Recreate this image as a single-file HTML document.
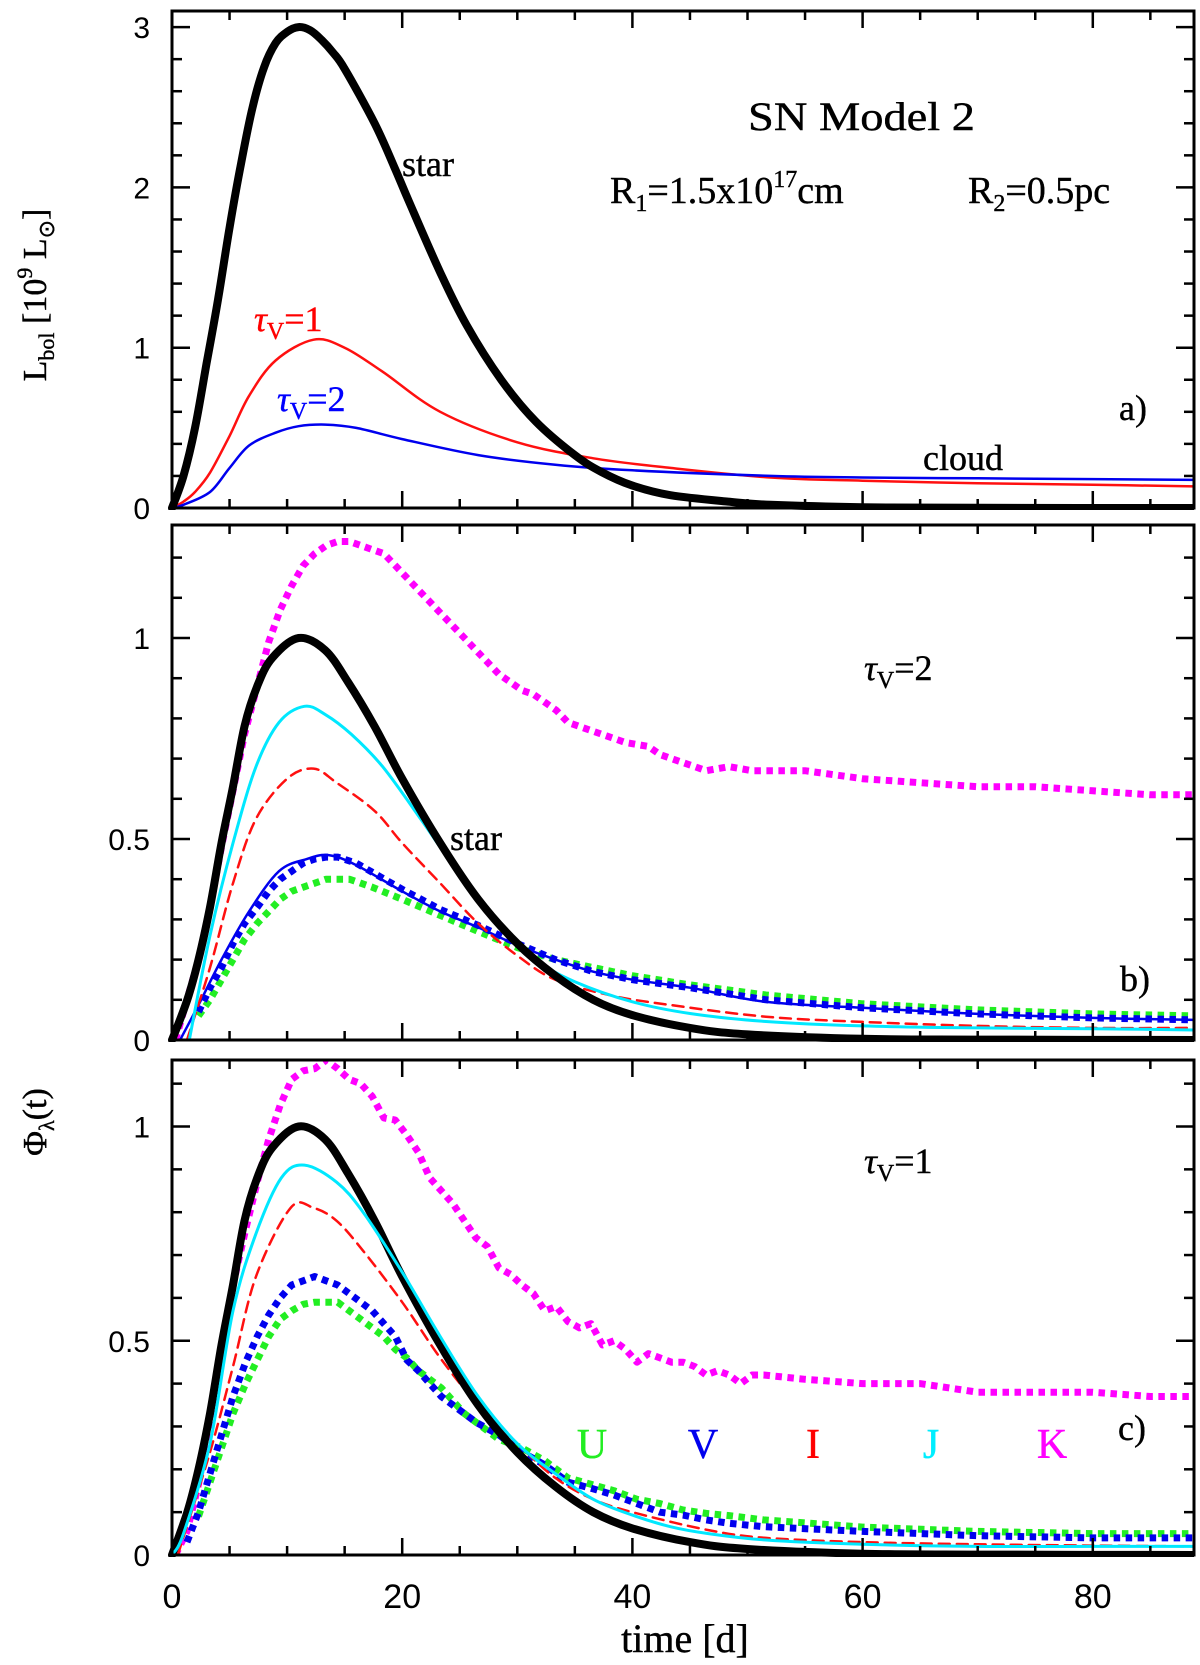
<!DOCTYPE html>
<html><head><meta charset="utf-8"><style>
html,body{margin:0;padding:0;background:#fff;}
svg{display:block;}
.tk{font-family:"Liberation Sans",sans-serif;font-size:30px;fill:#000;}
.an{font-family:"Liberation Serif",serif;fill:#000;stroke:currentColor;stroke-width:0.4;}
</style></head><body>
<svg id="chart" width="1200" height="1665" viewBox="0 0 1200 1665" xmlns="http://www.w3.org/2000/svg">
<g id="marks"></g>
<g id="axes"></g>
<g id="labels">
<text class="an" x="748" y="130" font-size="40" textLength="227" lengthAdjust="spacingAndGlyphs">SN Model 2</text>
<text class="an" x="610" y="203" font-size="38">R<tspan font-size="24" dy="8">1</tspan><tspan dy="-8">=1.5x10</tspan><tspan font-size="24" dy="-16">17</tspan><tspan dy="16">cm</tspan></text>
<text class="an" x="968" y="203" font-size="38">R<tspan font-size="24" dy="8">2</tspan><tspan dy="-8">=0.5pc</tspan></text>
<text class="an" x="402" y="176" font-size="36">star</text>
<text class="an" x="254" y="331" font-size="36" style="fill:#ff0000;color:#ff0000;font-style:italic">τ<tspan font-size="24" dy="8" font-style="normal">V</tspan><tspan dy="-8" font-style="normal">=1</tspan></text>
<text class="an" x="277" y="411" font-size="36" style="fill:#0000ff;color:#0000ff;font-style:italic">τ<tspan font-size="24" dy="8" font-style="normal">V</tspan><tspan dy="-8" font-style="normal">=2</tspan></text>
<text class="an" x="1119" y="420" font-size="36">a)</text>
<text class="an" x="923" y="470" font-size="36">cloud</text>
<text class="an" x="864" y="680" font-size="36" style="font-style:italic">τ<tspan font-size="24" dy="8" font-style="normal">V</tspan><tspan dy="-8" font-style="normal">=2</tspan></text>
<text class="an" x="450" y="850" font-size="36">star</text>
<text class="an" x="1120" y="991" font-size="36">b)</text>
<text class="an" x="864" y="1173" font-size="36" style="font-style:italic">τ<tspan font-size="24" dy="8" font-style="normal">V</tspan><tspan dy="-8" font-style="normal">=1</tspan></text>
<text class="an" x="1118" y="1440" font-size="36">c)</text>
<text class="an" x="592" y="1458" font-size="42" text-anchor="middle" style="fill:#22ee22;color:#22ee22">U</text>
<text class="an" x="703" y="1458" font-size="42" text-anchor="middle" style="fill:#0000ee;color:#0000ee">V</text>
<text class="an" x="813" y="1458" font-size="42" text-anchor="middle" style="fill:#ff0000;color:#ff0000">I</text>
<text class="an" x="931" y="1458" font-size="42" text-anchor="middle" style="fill:#00eeff;color:#00eeff">J</text>
<text class="an" x="1052" y="1458" font-size="42" text-anchor="middle" style="fill:#ff00ff;color:#ff00ff">K</text>
<text class="an" x="685" y="1652" font-size="40" text-anchor="middle">time [d]</text>
<text class="an" transform="translate(46,295) rotate(-90)" font-size="34" text-anchor="middle">L<tspan font-size="22" dy="8">bol</tspan><tspan dy="-8">  [10</tspan><tspan font-size="22" dy="-14">9</tspan><tspan dy="14"> L</tspan><tspan font-size="22" dy="8">⊙</tspan><tspan dy="-8">]</tspan></text>
<text class="an" transform="translate(46,1122) rotate(-90)" font-size="34" text-anchor="middle">Φ<tspan font-size="22" dy="8">λ</tspan><tspan dy="-8">(t)</tspan></text>
</g>
</svg>
<script>
// ---- data (time in days) ----
const tStarA = [0,1,2,3,4,5,6,7,8,9,10,11,12,13,14,15,17.6,19.3,20.6,23.3,25.6,28.6,31.6,35,37.3,40,43.3,48.3,52,60,70,89];
const vStarA = [0,0.2,0.5,0.9,1.3,1.75,2.15,2.5,2.75,2.9,2.97,3.0,2.98,2.92,2.84,2.74,2.4,2.13,1.91,1.47,1.14,0.8,0.54,0.33,0.225,0.14,0.08,0.04,0.02,0.005,0.001,0];
const tRedA = [0,1,2,3.3,5,6.7,9,12.3,15,18.3,23.3,30,36.6,43.3,52,60,70,80,89];
const vRedA = [0,0.04,0.1,0.22,0.45,0.70,0.92,1.05,1.0,0.85,0.6,0.41,0.31,0.25,0.19,0.17,0.155,0.145,0.135];
const tBlueA = [0,1,3.3,5,6.7,9,11,13.3,16,20,26.6,33.3,40,52,60,70,80,89];
const vBlueA = [0,0.02,0.1,0.25,0.39,0.47,0.51,0.52,0.50,0.43,0.33,0.27,0.235,0.2,0.19,0.185,0.18,0.175];

const tStarB = [0,1.33,2.3,3.3,4.3,5.3,6.3,7.4,8.7,11,13.3,15.3,17.6,20,23.3,26.6,30,33.3,36.6,40,45,50,60,70,89];
const vStarB = [0,0.10,0.2,0.33,0.49,0.63,0.78,0.88,0.95,1.0,0.97,0.89,0.78,0.65,0.49,0.35,0.24,0.16,0.10,0.062,0.03,0.014,0.003,0.001,0];
const tCyanB = [1.5,3.3,5.3,7.3,9.3,11.5,13.3,15.6,18.3,21.6,25,28.3,31.6,35,40,45,51.6,60,70,80,89];
const vCyanB = [0,0.26,0.49,0.68,0.79,0.83,0.81,0.76,0.68,0.55,0.41,0.29,0.2,0.145,0.095,0.066,0.046,0.035,0.03,0.028,0.025];
const tRedB = [1.3,3.3,5.3,7.3,10,12.3,14.3,17.6,20,23.3,26.6,30,33.3,38.3,43.3,51.6,60,70,80,89];
const vRedB = [0,0.18,0.39,0.55,0.65,0.675,0.64,0.57,0.49,0.39,0.29,0.21,0.15,0.11,0.087,0.058,0.045,0.035,0.03,0.03];
const tBlueB = [0.7,2.3,4.3,6.7,9.3,11.7,13.6,16,20,23.3,26.6,30,33.3,36.6,40,45,51.6,60,70,80,89];
const vBlueB = [0,0.087,0.2,0.32,0.42,0.45,0.46,0.435,0.37,0.32,0.28,0.236,0.2,0.17,0.15,0.13,0.095,0.08,0.065,0.055,0.05];
const tVdotB = [2.3,3.3,4.3,5.3,6.3,7.4,8.4,9.4,10.4,11.4,12.4,13.4,14.4,16,20,23.3,26.6,30,33.3,36.6,40,45,51.6,60,70,80,89];
const vVdotB = [0.07,0.13,0.18,0.24,0.29,0.33,0.37,0.40,0.42,0.44,0.45,0.455,0.455,0.44,0.375,0.325,0.285,0.24,0.2,0.17,0.15,0.13,0.1,0.08,0.065,0.055,0.05];
const tUdotB = [2.3,3.3,4.3,5.3,6.3,7.4,8.4,9.4,10.4,11.4,12.4,13.4,14.4,15.4,16.4,17.4,20,23.3,26.6,30,33.3,36.6,40,45,51.6,60,70,80,89];
const vUdotB = [0.06,0.10,0.15,0.2,0.25,0.29,0.32,0.35,0.37,0.38,0.39,0.40,0.40,0.40,0.39,0.38,0.35,0.31,0.27,0.23,0.2,0.18,0.16,0.137,0.112,0.09,0.075,0.065,0.06];
const tKdotB = [0.3,2.3,3.3,4.3,5.3,6.3,7.4,8.4,9.4,10.4,11.4,12.4,13.4,14.4,15.4,16.4,17.4,18.4,19.4,20.4,21.4,22.4,23.4,24.4,25.4,26.4,27.4,28.4,29.4,30.4,31.4,32.4,33.4,34.4,36.4,37.4,38.4,39.4,41.4,42.4,43.4,44.4,45.4,46.4,48.4,50.4,55,60,65,70,75,80,85,89];
const vKdotB = [0,0.20,0.33,0.48,0.62,0.76,0.88,0.99,1.07,1.13,1.18,1.21,1.23,1.24,1.24,1.23,1.22,1.21,1.18,1.15,1.12,1.09,1.06,1.03,1.0,0.97,0.94,0.91,0.89,0.87,0.86,0.84,0.82,0.79,0.77,0.76,0.75,0.74,0.73,0.71,0.70,0.69,0.68,0.67,0.68,0.67,0.67,0.65,0.64,0.63,0.63,0.62,0.61,0.61];

const tStarC = [0,1.33,2.3,3.3,4.3,5.3,6.3,7.4,8.7,11,13.3,15.3,17.6,20,23.3,26.6,30,33.3,36.6,40,45,50,60,70,89];
const vStarC = [0,0.10,0.2,0.33,0.49,0.63,0.78,0.88,0.95,1.0,0.97,0.89,0.78,0.65,0.49,0.35,0.24,0.16,0.10,0.062,0.03,0.014,0.003,0.001,0];
const tCyanC = [0,1,3.3,5.3,7.3,9.5,11.5,14.3,16.6,20,23.3,26.6,30,33.3,36.6,40,43.3,46.6,51.6,60,70,80,89];
const vCyanC = [0,0.05,0.26,0.57,0.75,0.88,0.91,0.87,0.80,0.66,0.51,0.37,0.26,0.19,0.13,0.093,0.066,0.05,0.035,0.025,0.02,0.02,0.02];
const tRedC = [0.5,3.3,5.3,7.3,10.3,12.3,14.3,16.6,20,23.3,26.6,30,33.3,36.6,40,46.6,51.6,60,70,80,89];
const vRedC = [0,0.24,0.44,0.65,0.81,0.81,0.78,0.71,0.59,0.46,0.35,0.26,0.18,0.13,0.10,0.058,0.04,0.03,0.025,0.022,0.02];
const tVdotC = [1.3,2.3,3.3,4.3,5.3,6.4,7.4,8.4,9.4,10.4,11.4,12.4,13.4,14.4,15.4,16.4,17.4,18.4,19.4,20.4,21.4,22.4,23.4,24.4,26.4,28.4,30.4,32.4,34.4,36.4,38.4,40.4,42.4,44.4,46.4,48.4,51.4,60,70,80,89];
const vVdotC = [0.03,0.10,0.19,0.28,0.37,0.45,0.51,0.56,0.60,0.63,0.64,0.65,0.64,0.63,0.61,0.59,0.57,0.54,0.51,0.455,0.43,0.40,0.37,0.35,0.31,0.28,0.24,0.21,0.17,0.156,0.14,0.12,0.10,0.093,0.082,0.074,0.066,0.055,0.045,0.04,0.04];
const tUdotC = [2.3,3.3,4.3,5.3,6.4,7.4,8.4,9.4,10.4,11.4,12.4,13.4,14.4,15.4,16.4,17.4,18.4,19.4,20.4,21.4,22.4,23.4,24.4,25.4,26.4,28.4,30.4,32.4,34.4,36.4,38.4,40.4,42.4,44.4,46.4,48.4,51.4,60,70,80,89];
const vUdotC = [0.09,0.17,0.25,0.33,0.40,0.455,0.51,0.55,0.57,0.585,0.59,0.59,0.59,0.57,0.55,0.53,0.51,0.48,0.46,0.43,0.41,0.39,0.36,0.33,0.31,0.27,0.25,0.22,0.18,0.165,0.15,0.13,0.12,0.105,0.097,0.092,0.082,0.065,0.055,0.05,0.05];
const tKdotC = [0.3,1.3,2.3,3.3,4.3,5.3,6.4,7.4,8.4,9.4,10.4,11.4,12.4,13.4,14.4,15.4,16.4,17.4,18.4,19.4,20.4,21.4,22.4,23.4,24.4,25.4,26.4,27.4,28.4,29.4,30.4,31.4,32.4,33.4,34.4,35.4,36.4,37.4,38.4,39.4,40.4,41.4,42.4,43.4,44.4,45.4,46.4,47.4,48.4,49.4,50.4,51.4,55,60,65,70,75,80,85,89];
const vKdotC = [0,0.055,0.165,0.31,0.47,0.63,0.76,0.87,0.97,1.05,1.11,1.13,1.135,1.155,1.135,1.11,1.10,1.07,1.02,1.015,0.98,0.94,0.88,0.85,0.82,0.78,0.74,0.72,0.67,0.655,0.63,0.61,0.57,0.58,0.545,0.53,0.54,0.49,0.50,0.48,0.45,0.47,0.46,0.45,0.45,0.44,0.42,0.43,0.42,0.40,0.42,0.42,0.41,0.40,0.40,0.38,0.38,0.38,0.37,0.37];

const xTickLabels = ["0","20","40","60","80"];
const yTickLabelsA = ["0","1","2","3"];
const yTickLabelsBC = ["0","0.5","1"];

// ---- layout ----
const NS = "http://www.w3.org/2000/svg";
const X0 = 172, XR = 1194, XU = 11.51;
const X = t => X0 + t * XU;
const panels = {
  a: {top: 11, bottom: 508, unit: 160.3, minor: 0.2, major: 1},
  b: {top: 525, bottom: 1040, unit: 402, minor: 0.1, major: 0.5},
  c: {top: 1060, bottom: 1555, unit: 428.5, minor: 0.1, major: 0.5}
};
const Yf = p => v => p.bottom - v * p.unit;
const marks = document.getElementById('marks');
const axes = document.getElementById('axes');

function mk(tag, attrs, parent) {
  const e = document.createElementNS(NS, tag);
  for (const k in attrs) e.setAttribute(k, attrs[k]);
  parent.appendChild(e);
  return e;
}
function pts(ts, vs, Y) {
  const n = Math.min(ts.length, vs.length), out = [];
  for (let i = 0; i < n; i++) out.push([X(ts[i]), Y(vs[i])]);
  return out;
}
function smoothPath(p) {
  let d = 'M' + p[0][0].toFixed(1) + ',' + p[0][1].toFixed(1);
  for (let i = 0; i < p.length - 1; i++) {
    const p0 = p[i - 1] || p[i], p1 = p[i], p2 = p[i + 1], p3 = p[i + 2] || p2;
    const c1x = p1[0] + (p2[0] - p0[0]) / 6, c1y = p1[1] + (p2[1] - p0[1]) / 6;
    const c2x = p2[0] - (p3[0] - p1[0]) / 6, c2y = p2[1] - (p3[1] - p1[1]) / 6;
    d += ' C' + c1x.toFixed(1) + ',' + c1y.toFixed(1) + ' ' + c2x.toFixed(1) + ',' + c2y.toFixed(1) + ' ' + p2[0].toFixed(1) + ',' + p2[1].toFixed(1);
  }
  return d;
}
function linePath(p) { return 'M' + p.map(q => q[0].toFixed(1) + ',' + q[1].toFixed(1)).join(' L'); }

function series(panel, ts, vs, name, style) {
  const p = panels[panel];
  const P = pts(ts, vs, Yf(p));
  const d = style.dot ? linePath(P) : smoothPath(P);
  const el = mk('path', {d: d, fill: 'none', stroke: style.color, 'stroke-width': style.w,
    'stroke-linejoin': 'round', 'stroke-linecap': style.dot ? 'butt' : 'round',
    'clip-path': 'url(#clip-' + panel + ')'}, marks);
  if (style.dash) el.setAttribute('stroke-dasharray', style.dash);
  
  
}

const defs = mk('defs', {}, document.getElementById('chart'));
for (const k in panels) {
  const p = panels[k];
  const cp = mk('clipPath', {id: 'clip-' + k}, defs);
  mk('rect', {x: X0 - 6, y: p.top, width: XR - X0 + 6, height: p.bottom - p.top + 2}, cp);
}

const BLK = '#000', RED = '#ff1010', BLU = '#0000ee', CYN = '#00e8ff', GRN = '#22ee22', MAG = '#ff00ff';
const DOT = '6.5 5.5';
series('a', tRedA, vRedA, 'tau1-cloud-curve', {color: RED, w: 2.5});
series('a', tBlueA, vBlueA, 'tau2-cloud-curve', {color: BLU, w: 2.5});
series('a', tStarA, vStarA, 'star-curve-a', {color: BLK, w: 8});
series('b', tKdotB, vKdotB, 'k-band-b', {color: MAG, w: 7, dash: DOT, dot: true});
series('b', tUdotB, vUdotB, 'u-band-b', {color: GRN, w: 7, dash: DOT, dot: true});
series('b', tVdotB, vVdotB, 'v-band-b', {color: BLU, w: 7, dash: DOT, dot: true});
series('b', tBlueB, vBlueB, 'v-band-solid-b', {color: BLU, w: 2.5});
series('b', tRedB, vRedB, 'i-band-b', {color: RED, w: 2.5, dash: '11 7'});
series('b', tCyanB, vCyanB, 'j-band-b', {color: CYN, w: 3});
series('b', tStarB, vStarB, 'star-curve-b', {color: BLK, w: 8});
series('c', tKdotC, vKdotC, 'k-band-c', {color: MAG, w: 7, dash: DOT, dot: true});
series('c', tUdotC, vUdotC, 'u-band-c', {color: GRN, w: 7, dash: DOT, dot: true});
series('c', tVdotC, vVdotC, 'v-band-c', {color: BLU, w: 7, dash: DOT, dot: true});
series('c', tRedC, vRedC, 'i-band-c', {color: RED, w: 2.5, dash: '11 7'});
series('c', tStarC, vStarC, 'star-curve-c', {color: BLK, w: 8});
series('c', tCyanC, vCyanC, 'j-band-c', {color: CYN, w: 3});

for (const k in panels) {
  const p = panels[k], Y = Yf(p);
  const fr = mk('rect', {x: X0, y: p.top, width: XR - X0, height: p.bottom - p.top, fill: 'none', stroke: '#000', 'stroke-width': 3}, axes);
  
  
  for (let t = 5; t < 89; t += 5) {
    const L = (t % 20 === 0) ? 17 : 9;
    mk('line', {x1: X(t), x2: X(t), y1: p.bottom, y2: p.bottom - L, stroke: '#000', 'stroke-width': 2.5}, axes);
    mk('line', {x1: X(t), x2: X(t), y1: p.top, y2: p.top + L, stroke: '#000', 'stroke-width': 2.5}, axes);
  }
  const ymax = (p.bottom - p.top) / p.unit;
  for (let i = 1; i * p.minor < ymax; i++) {
    const v = i * p.minor;
    const isMaj = Math.abs(v / p.major - Math.round(v / p.major)) < 1e-6;
    const L = isMaj ? 18 : 10;
    mk('line', {x1: X0, x2: X0 + L, y1: Y(v), y2: Y(v), stroke: '#000', 'stroke-width': 2.5}, axes);
    mk('line', {x1: XR, x2: XR - L, y1: Y(v), y2: Y(v), stroke: '#000', 'stroke-width': 2.5}, axes);
  }
  const labs = k === 'a' ? yTickLabelsA : yTickLabelsBC;
  labs.forEach(s => {
    const tx = mk('text', {x: 150, y: Y(parseFloat(s)) + 11, 'text-anchor': 'end', class: 'tk'}, axes);
    tx.textContent = s;
    
    
  });
}
xTickLabels.forEach(s => {
  const tx = mk('text', {x: X(parseFloat(s)), y: 1608, 'text-anchor': 'middle', class: 'tk'}, axes);
  tx.setAttribute('style', 'font-size:34px');
  tx.textContent = s;
  
  
});
</script>
</body></html>
